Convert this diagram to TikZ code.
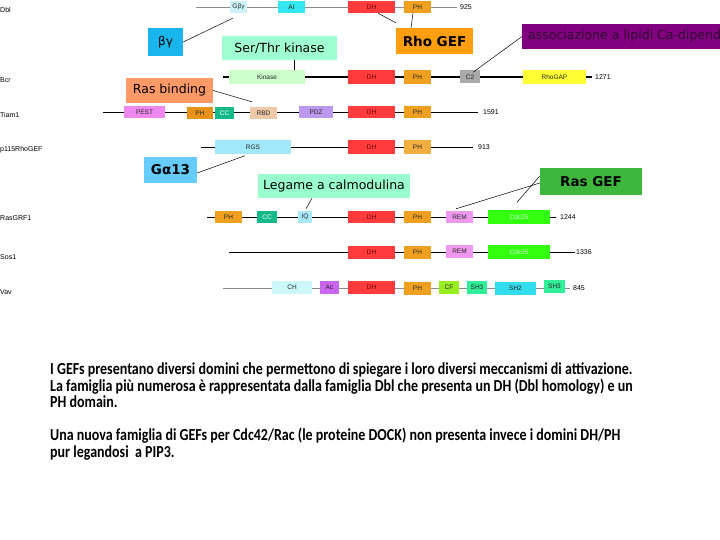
\documentclass[tikz,border=0pt]{standalone}
\usepackage{fontspec}
\usepackage{graphicx}
\setmainfont{Liberation Sans}
\newfontfamily\comicf{DejaVu Sans}
\newfontfamily\bodyf{Carlito}
\definecolor{cDH}{HTML}{FF3B3B}
\definecolor{cPH}{HTML}{F0A020}
\definecolor{cAI}{HTML}{33E6F0}
\definecolor{cGbg}{HTML}{CCF2FA}
\definecolor{cKin}{HTML}{CCFFCC}
\definecolor{cC2}{HTML}{AAAAAA}
\definecolor{cGAP}{HTML}{FFFF33}
\definecolor{cPEST}{HTML}{EE88EE}
\definecolor{cPHt}{HTML}{E8921A}
\definecolor{cCC}{HTML}{14B98A}
\definecolor{cRBD}{HTML}{EEC9A8}
\definecolor{cPDZ}{HTML}{BB99EE}
\definecolor{cRGS}{HTML}{A0E8FA}
\definecolor{cIQ}{HTML}{A8E8F8}
\definecolor{cREM}{HTML}{EE99EE}
\definecolor{cCdc}{HTML}{33FF11}
\definecolor{cCH}{HTML}{CCF8FA}
\definecolor{cAc}{HTML}{C866EE}
\definecolor{cCF}{HTML}{99EE22}
\definecolor{cSH3}{HTML}{33EE99}
\definecolor{cSH2}{HTML}{33DDEE}
\definecolor{cbg}{HTML}{19B5EC}
\definecolor{cstk}{HTML}{A0FFD0}
\definecolor{crho}{HTML}{FF9E0F}
\definecolor{clip}{HTML}{800080}
\definecolor{cliptxt}{HTML}{300030}
\definecolor{crb}{HTML}{FF9966}
\definecolor{cg13}{HTML}{66CCFF}
\definecolor{cleg}{HTML}{99FFCC}
\definecolor{crasgef}{HTML}{3DB83D}
\tikzset{
  dom/.style={inner sep=0pt, minimum height=12pt, font=\fontsize{6.5}{6.5}\selectfont, text=black!85},
  rowlbl/.style={inner sep=0pt, anchor=west, font=\fontsize{7}{7}\selectfont},
  num/.style={inner sep=0pt, anchor=west, font=\fontsize{7}{7}\selectfont},
  callout/.style={inner sep=0pt, font=\comicf\fontsize{12.5}{13}\selectfont},
  calloutb/.style={callout, font=\comicf\bfseries\fontsize{13.5}{14}\selectfont},
  conn/.style={draw=black, line width=0.5pt},
  prot/.style={draw=black, line width=0.8pt},
  protg/.style={draw=black!45, line width=0.8pt}
}
\begin{document}
\begin{tikzpicture}[x=1pt,y=-1pt]
\useasboundingbox (0,0) rectangle (720,540);
% ---------- row labels
\node[rowlbl] (lDbl) at (0,10) {Dbl};
\node[rowlbl] (lBcr) at (0,80) {Bcr};
\node[rowlbl] (lTiam) at (0,115) {Tiam1};
\node[rowlbl] (lp115) at (0,150) {p115RhoGEF};
\node[rowlbl] (lGRF) at (0,218) {RasGRF1};
\node[rowlbl] (lSos) at (0,257) {Sos1};
\node[rowlbl] (lVav) at (0,292) {Vav};
% ---------- Dbl
\coordinate (dbls) at (196,7);
\node[num] (dble) at (460,7) {925};
\draw[protg] (dbls) -- ([xshift=-3]dble.west);
\node[dom, fill=cGbg, minimum width=17pt] (gbg) at (238.5,7) {Gβγ};
\node[dom, fill=cAI, minimum width=27pt] (ai) at (291.5,7) {AI};
\node[dom, fill=cDH, minimum width=47pt, text=red!40!black] (dh1) at (371.5,7) {DH};
\node[dom, fill=cPH, minimum width=27pt] (ph1) at (417.5,7) {PH};
% ---------- Bcr
\coordinate (bcrs) at (223,77);
\node[num] (bcre) at (595,77) {1271};
\draw[prot, line width=1.1pt] (bcrs) -- ([xshift=-3]bcre.west);
\node[dom, fill=cKin, minimum width=76pt, minimum height=14pt] (kin) at (267,77) {Kinase};
\node[dom, fill=cDH, minimum width=47pt, minimum height=14pt, text=red!40!black] (dh2) at (371.5,77) {DH};
\node[dom, fill=cPH, minimum width=27pt, minimum height=14pt] (ph2) at (417.5,77) {PH};
\node[dom, fill=cC2, minimum width=20pt, minimum height=13pt] (c2) at (470,77) {C2};
\node[dom, fill=cGAP, minimum width=63pt, minimum height=14pt] (gap) at (554.5,77) {RhoGAP};
% ---------- Tiam1
\coordinate (tiams) at (103,112);
\node[num] (tiame) at (483,112) {1591};
\draw[prot] (tiams) -- ([xshift=-5]tiame.west);
\node[dom, fill=cPEST, minimum width=41pt] (pest) at (144.5,112.5) {PEST};
\node[dom, fill=cPHt, minimum width=26pt] (ph3a) at (200,113) {PH};
\node[dom, fill=cCC, minimum width=19pt, text=white] (cc3) at (224.5,113) {CC};
\node[dom, fill=cRBD, minimum width=27pt] (rbd) at (263.5,113) {RBD};
\node[dom, fill=cPDZ, minimum width=34pt] (pdz) at (316,112) {PDZ};
\node[dom, fill=cDH, minimum width=47pt, text=red!40!black] (dh3) at (371.5,112) {DH};
\node[dom, fill=cPH, minimum width=27pt] (ph3) at (417.5,112) {PH};
% ---------- p115RhoGEF
\coordinate (p115s) at (201,147);
\node[num] (p115e) at (478,147) {913};
\draw[prot, line width=0.6pt] (p115s) -- ([xshift=-5]p115e.west);
\node[dom, fill=cRGS, minimum width=76pt, minimum height=14pt] (rgs) at (253,147) {RGS};
\node[dom, fill=cDH, minimum width=47pt, minimum height=14pt, text=red!40!black] (dh4) at (371.5,147) {DH};
\node[dom, fill=cPH!85!white, minimum width=27pt, minimum height=14pt] (ph4) at (417.5,147) {PH};
% ---------- RasGRF1
\coordinate (grfs) at (207,217);
\node[num] (grfe) at (560,217) {1244};
\draw[prot] (grfs) -- ([xshift=-4]grfe.west);
\node[dom, fill=cPH, minimum width=27pt] (ph5a) at (228.5,217) {PH};
\node[dom, fill=cCC, minimum width=20pt, text=white] (cc5) at (267,217) {CC};
\node[dom, fill=cIQ, minimum width=14pt] (iq) at (305,217) {IQ};
\node[dom, fill=cDH, minimum width=47pt, text=red!40!black] (dh5) at (371.5,217) {DH};
\node[dom, fill=cPH, minimum width=27pt] (ph5) at (417.5,217) {PH};
\node[dom, fill=cREM, minimum width=27pt] (rem5) at (459.5,217) {REM};
\node[dom, fill=cCdc, minimum width=62pt, minimum height=14pt, text=green!15!white] (cdc5) at (519,217.5) {Cdc25};
% ---------- Sos1
\coordinate (soss) at (229,252);
\node[num] (sose) at (576,252) {1336};
\draw[prot] (soss) -- ([xshift=-1]sose.west);
\node[dom, fill=cDH, minimum width=47pt, minimum height=13pt, text=red!40!black] (dh6) at (371.5,252) {DH};
\node[dom, fill=cPH, minimum width=27pt, minimum height=13pt] (ph6) at (417.5,252.5) {PH};
\node[dom, fill=cREM, minimum width=27pt, minimum height=13pt] (rem6) at (459.5,251.5) {REM};
\node[dom, fill=cCdc, minimum width=62pt, minimum height=14pt, text=green!15!white] (cdc6) at (519,252) {Cdc25};
% ---------- Vav
\coordinate (vavs) at (223,288);
\node[num] (vave) at (573,288) {845};
\draw[protg] (vavs) -- ([xshift=-3]vave.west);
\node[dom, fill=cCH, minimum width=40pt, minimum height=13pt] (ch) at (292,287) {CH};
\node[dom, fill=cAc, minimum width=19pt, minimum height=13pt] (ac) at (329.5,287) {Ac};
\node[dom, fill=cDH, minimum width=47pt, minimum height=13pt, text=red!40!black] (dh7) at (371.5,287.5) {DH};
\node[dom, fill=cPH, minimum width=27pt, minimum height=13pt] (ph7) at (417.5,288) {PH};
\node[dom, fill=cCF, minimum width=20pt, minimum height=13pt] (cf) at (449,287) {CF};
\node[dom, fill=cSH3, minimum width=20pt, minimum height=13pt] (sh3a) at (477,287) {SH3};
\node[dom, fill=cSH2, minimum width=41pt, minimum height=13pt] (sh2) at (515.5,288.5) {SH2};
\node[dom, fill=cSH3, minimum width=21pt, minimum height=13pt] (sh3b) at (554.5,286.5) {SH3};
% ---------- callouts
\node[callout, fill=cbg, minimum width=35pt, minimum height=28pt, font=\comicf\fontsize{12}{13}\selectfont] (bg) at (165.5,42) {βγ};
\node[callout, fill=cstk, minimum width=115pt, minimum height=24pt] (stk) at (279.5,48) {Ser/Thr kinase};
\node[calloutb, fill=crho, minimum width=77pt, minimum height=26pt] (rho) at (434.5,41) {Rho GEF};
\node[callout, fill=clip, minimum height=25pt, minimum width=200pt, text=cliptxt, anchor=west, align=left, inner xsep=6pt] (lip) at (522,36.5) {associazione a lipidi Ca-dipend\hfill};
\node[callout, fill=crb, minimum width=87pt, minimum height=25pt] (rb) at (169.5,90.5) {Ras binding};
\node[calloutb, fill=cg13, minimum width=53pt, minimum height=26pt] (g13) at (170.5,170) {Gα13};
\node[callout, fill=cleg, minimum width=152pt, minimum height=24pt] (leg) at (334,186) {Legame a calmodulina};
\node[calloutb, fill=crasgef, minimum width=102pt, minimum height=27pt] (rasgef) at (591,181.5) {Ras GEF};
% ---------- connectors
\draw[conn] (bg.east) -- ([shift={(3,5)}]gbg.south west);
\draw[conn] ([xshift=14.5]stk.south) -- ([xshift=14.5]stk.south |- kin.north);
\draw[conn] ([xshift=6.5]dh1.south) -- ([yshift=5]rho.north west);
\draw[conn] ([xshift=-4.5]ph1.south) -- ([xshift=-23.5]rho.north);
\draw[conn] (lip.west) -- ([shift={(3,2)}]c2.north);
\draw[conn] (rb.east) -- ([shift={(2,-5)}]rbd.north west);
\draw[conn] ([yshift=-3]g13.east) -- ([shift={(-8,1.5)}]rgs.south);
\draw[conn] ([xshift=-22]leg.south) -- ([shift={(1,-2)}]iq.north);
\draw[conn] ([yshift=-1.5]rasgef.west) -- ([shift={(-3.5,-2)}]rem5.north);
\draw[conn] ([yshift=5.5]rasgef.west) -- ([shift={(-2,-8)}]cdc5.north);
% ---------- text
\node[anchor=north west, inner sep=0pt] (txt) at (50,362) {\scalebox{1}[1.2]{\bodyf\bfseries\fontsize{14}{13.1}\selectfont
\begin{tabular}{@{}l@{}}
I GEFs presentano diversi domini che permettono di spiegare i loro diversi meccanismi di attivazione.\\
La famiglia più numerosa è rappresentata dalla famiglia Dbl che presenta un DH (Dbl homology) e un\\
PH domain.\\
\\
Una nuova famiglia di GEFs per Cdc42/Rac (le proteine DOCK) non presenta invece i domini DH/PH\\
pur legandosi\ \ a PIP3.
\end{tabular}}};
\end{tikzpicture}
\end{document}
